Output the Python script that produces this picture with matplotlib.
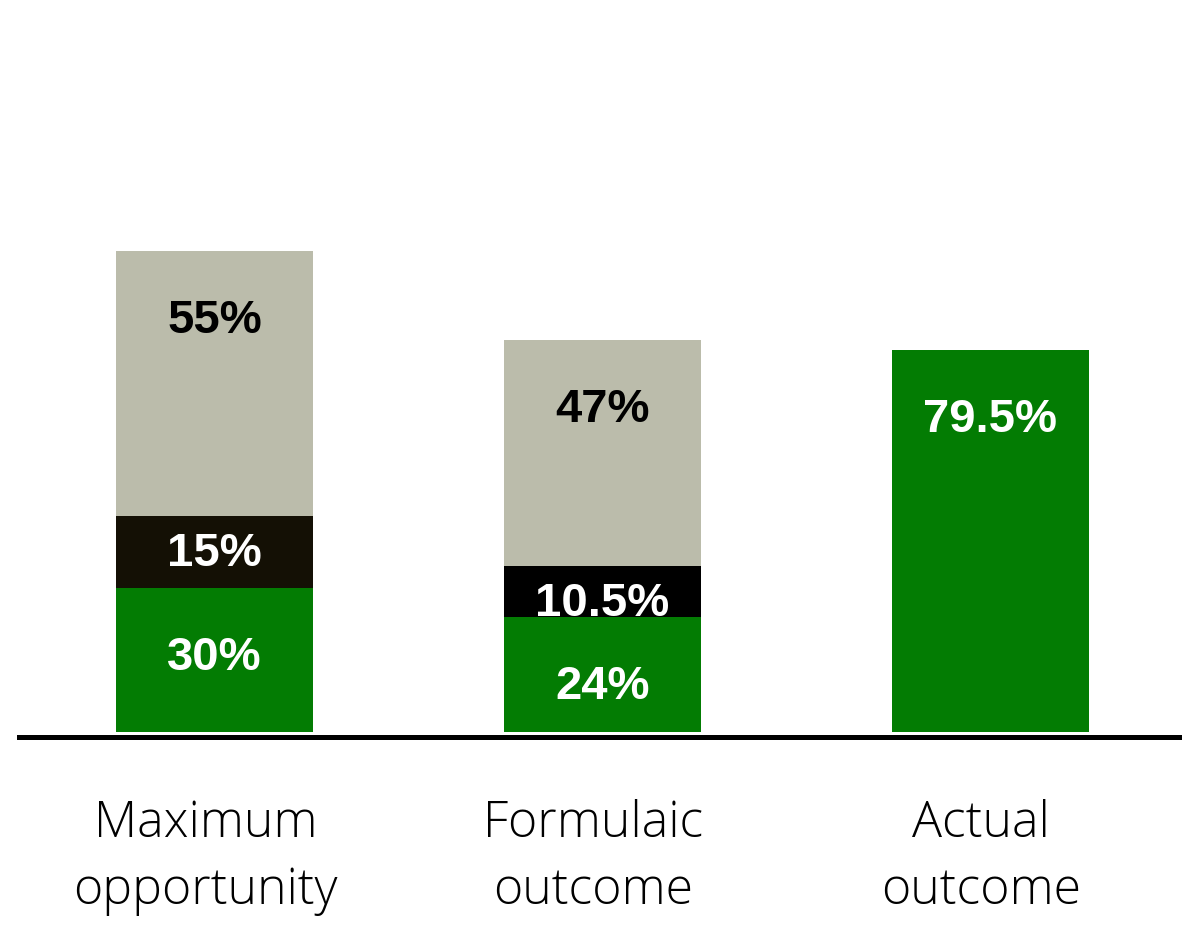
import matplotlib.pyplot as plt
import matplotlib.transforms as mtransforms
import numpy as np

categories = ["Maximum\nopportunity", "Formulaic\noutcome", "Actual\noutcome"]
base_vals = [30, 24, 79.5]
mid_vals = [15, 10.5, 0]
top_vals = [55, 47, 0]
base_labels = ["30%", "24%", "79.5%"]
mid_labels = ["15%", "10.5%", ""]
top_labels = ["55%", "47%", ""]

green = "#037c03"
grey = "#bbbcab"
mid_colors = ["#141005", "#000000", "#000000"]

fig = plt.figure(figsize=(11.82, 9.3), dpi=100)
ax = fig.add_axes([19 / 1182, (930 - 732) / 930, (1182 - 19) / 1182, 732 / 930])

x = np.arange(len(categories))
w = 0.508
base = np.array(base_vals)
mid = np.array(mid_vals)
top = np.array(top_vals)

ax.bar(x, base, w, color=green)
ax.bar(x, mid, w, bottom=base, color=mid_colors)
ax.bar(x, top, w, bottom=base + mid, color=grey)

lbl = dict(ha="center", va="center", fontsize=34, fontweight="bold",
           family="Liberation Sans")


def seg_label(xi, bottom, h, text, color):
    if not text:
        return
    seg_top = bottom + h
    off = 14.6 if h >= 20 else 7.9
    ax.text(xi, seg_top - off, text, color=color, **lbl)


for i in range(len(categories)):
    seg_label(x[i], 0, base[i], base_labels[i], "white")
    seg_label(x[i], base[i], mid[i], mid_labels[i], "white")
    seg_label(x[i], base[i] + mid[i], top[i], top_labels[i], "black")

ax.set_xlim(-0.504, 2.494)
ax.set_ylim(0, 152.2)

for s in ["top", "left", "right"]:
    ax.spines[s].set_visible(False)
ax.spines["bottom"].set_linewidth(3.6)
ax.spines["bottom"].set_position(("outward", 3.5))
ax.set_yticks([])
ax.set_xticks(x)
ax.set_xticklabels(categories, fontsize=36, family=["Open Sans", "DejaVu Sans"],
                   fontweight="light", linespacing=1.45)
ax.tick_params(axis="x", length=0, pad=45)
# category labels sit a little left of the bar centres
shift = mtransforms.ScaledTranslation(-0.09, 0, fig.dpi_scale_trans)
for t in ax.get_xticklabels():
    t.set_transform(t.get_transform() + shift)

fig.savefig("out.png", dpi=100)
